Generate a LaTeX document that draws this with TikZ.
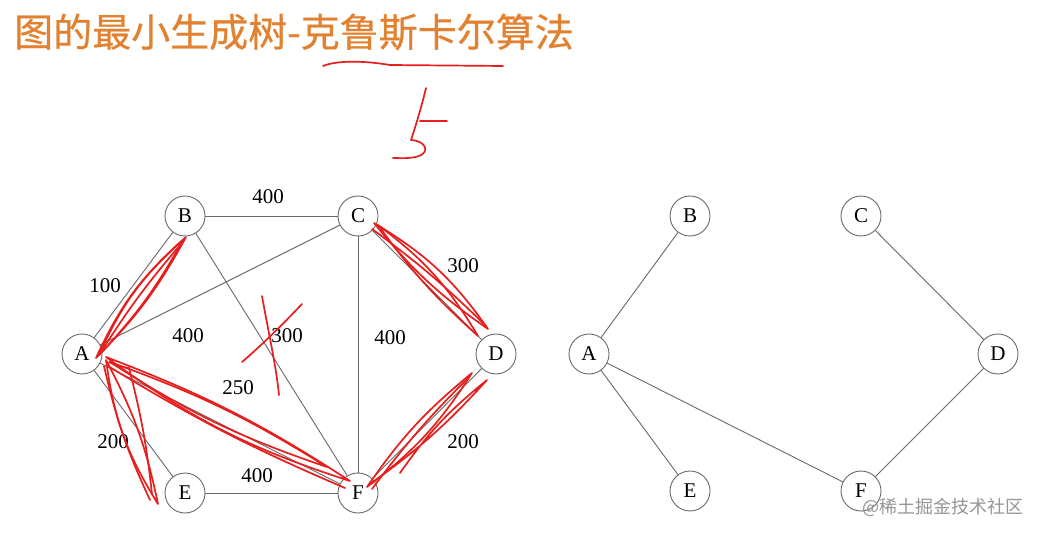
\documentclass[tikz,border=0pt]{standalone}
\usepackage{fontspec}
\setmainfont{Liberation Serif}
\newfontfamily\cjk{Noto Sans CJK SC}
\newfontfamily\cjkt[FakeBold=0.5]{Noto Sans CJK SC}
\definecolor{titleorange}{RGB}{226,130,48}
\definecolor{edgegray}{RGB}{105,105,105}
\definecolor{pen}{RGB}{230,30,30}
\definecolor{wmgray}{RGB}{150,150,150}
\tikzset{
  vtx/.style={circle,draw=edgegray,line width=0.9pt,minimum size=40pt,inner sep=0pt,fill=white,font=\fontsize{21}{21}\selectfont},
  edge/.style={draw=edgegray,line width=0.9pt},
  wlabel/.style={inner sep=0pt,font=\fontsize{21}{21}\selectfont},
  redpen/.style={draw=pen,line width=1.7pt,line cap=round,line join=round}
}
\begin{document}
\begin{tikzpicture}[x=1pt,y=-1pt]
\useasboundingbox[fill=white] (0,0) rectangle (1040,534);
% title
\node[anchor=west,inner sep=0pt,text=titleorange,font=\cjkt\fontsize{39}{39}\selectfont] (title) at (14,32) {图的最小生成树-克鲁斯卡尔算法};
% left graph nodes
\node[vtx] (A) at (82,354) {A};
\node[vtx] (B) at (185,216) {B};
\node[vtx] (C) at (358,216) {C};
\node[vtx] (D) at (496,354) {D};
\node[vtx] (E) at (185,493) {E};
\node[vtx] (F) at (358,493) {F};
\draw[edge] (A) -- (B);
\draw[edge] (B) -- (C);
\draw[edge] (A) -- (C);
\draw[edge] (B) -- (F);
\draw[edge] (C) -- (F);
\draw[edge] (C) -- (D);
\draw[edge] (A) -- (E);
\draw[edge] (A) -- (F);
\draw[edge] (E) -- (F);
\draw[edge] (D) -- (F);
\node[wlabel] (lBC) at (268,197) {400};
\node[wlabel] (lAB) at (105,286) {100};
\node[wlabel] (lAC) at (188,336) {400};
\node[wlabel] (lBF) at (287,336) {300};
\node[wlabel] (lCF) at (390,338) {400};
\node[wlabel] (lCD) at (463,266) {300};
\node[wlabel] (lAF) at (238,388) {250};
\node[wlabel] (lAE) at (113,442) {200};
\node[wlabel] (lEF) at (257,476) {400};
\node[wlabel] (lDF) at (463,442) {200};
% right graph nodes
\node[vtx] (A2) at (589,354) {A};
\node[vtx] (B2) at (690,216) {B};
\node[vtx] (C2) at (861,216) {C};
\node[vtx] (D2) at (998,354) {D};
\node[vtx] (E2) at (690,491) {E};
\node[vtx] (F2) at (861,491) {F};
\draw[edge] (A2) -- (B2);
\draw[edge] (A2) -- (E2);
\draw[edge] (A2) -- (F2);
\draw[edge] (C2) -- (D2);
\draw[edge] (D2) -- (F2);
% watermark
\node[anchor=west,inner sep=0pt,text=wmgray,font=\cjk\fontsize{18}{18}\selectfont] (wm) at (862,507) {@稀土掘金技术社区};
% red hand annotations
\draw[redpen] (323,66) .. controls (335,61) and (360,60) .. (390,65) -- (503,66);
\draw[redpen] (426,88) .. controls (422,105) and (416,125) .. (411,140)
  .. controls (426,141) and (430,152) .. (419,156) .. controls (410,159) and (400,158) .. (393,158);
\draw[redpen] (420,121) -- (447,121);
% X over 300
\draw[redpen] (262,296) .. controls (268,330) and (276,365) .. (279,395);
\draw[redpen] (302,304) .. controls (285,322) and (262,345) .. (242,362);
% loops A-B
\draw[redpen] (96,358) to[bend left=12] (186,237) to[bend left=8] (96,358);
\draw[redpen] (99,355) to[bend right=7] (183,240) to[bend right=12] (99,355);
\draw[redpen] (101,352) to[bend left=4] (181,244);
% loops C-D
\draw[redpen] (374,223) to[bend left=12] (488,329) to[bend left=8] (374,223);
\draw[redpen] (378,225) to[bend right=6] (478,336) to[bend right=11] (378,225);
\draw[redpen] (372,229) to[bend left=4] (486,326);
% loops A-E
\draw[redpen] (106,360) to[bend left=8] (158,504) to[bend left=12] (106,360);
\draw[redpen] (109,362) to[bend right=10] (129,368) to[bend left=4] (152,494);
\draw[redpen] (104,366) to[bend right=6] (150,500);
% loops A-F
\draw[redpen] (106,357) to[bend left=6] (350,481) to[bend left=9] (106,357);
\draw[redpen] (110,362) to[bend right=7] (327,467) to[bend right=6] (110,362);
\draw[redpen] (108,366) to[bend right=4] (345,488);
% loops D-F
\draw[redpen] (367,487) to[bend left=8] (472,373) to[bend left=10] (367,487);
\draw[redpen] (370,484) to[bend right=6] (487,380) to[bend right=8] (400,473);
\draw[redpen] (372,489) to[bend left=4] (468,378);
\end{tikzpicture}
\end{document}
